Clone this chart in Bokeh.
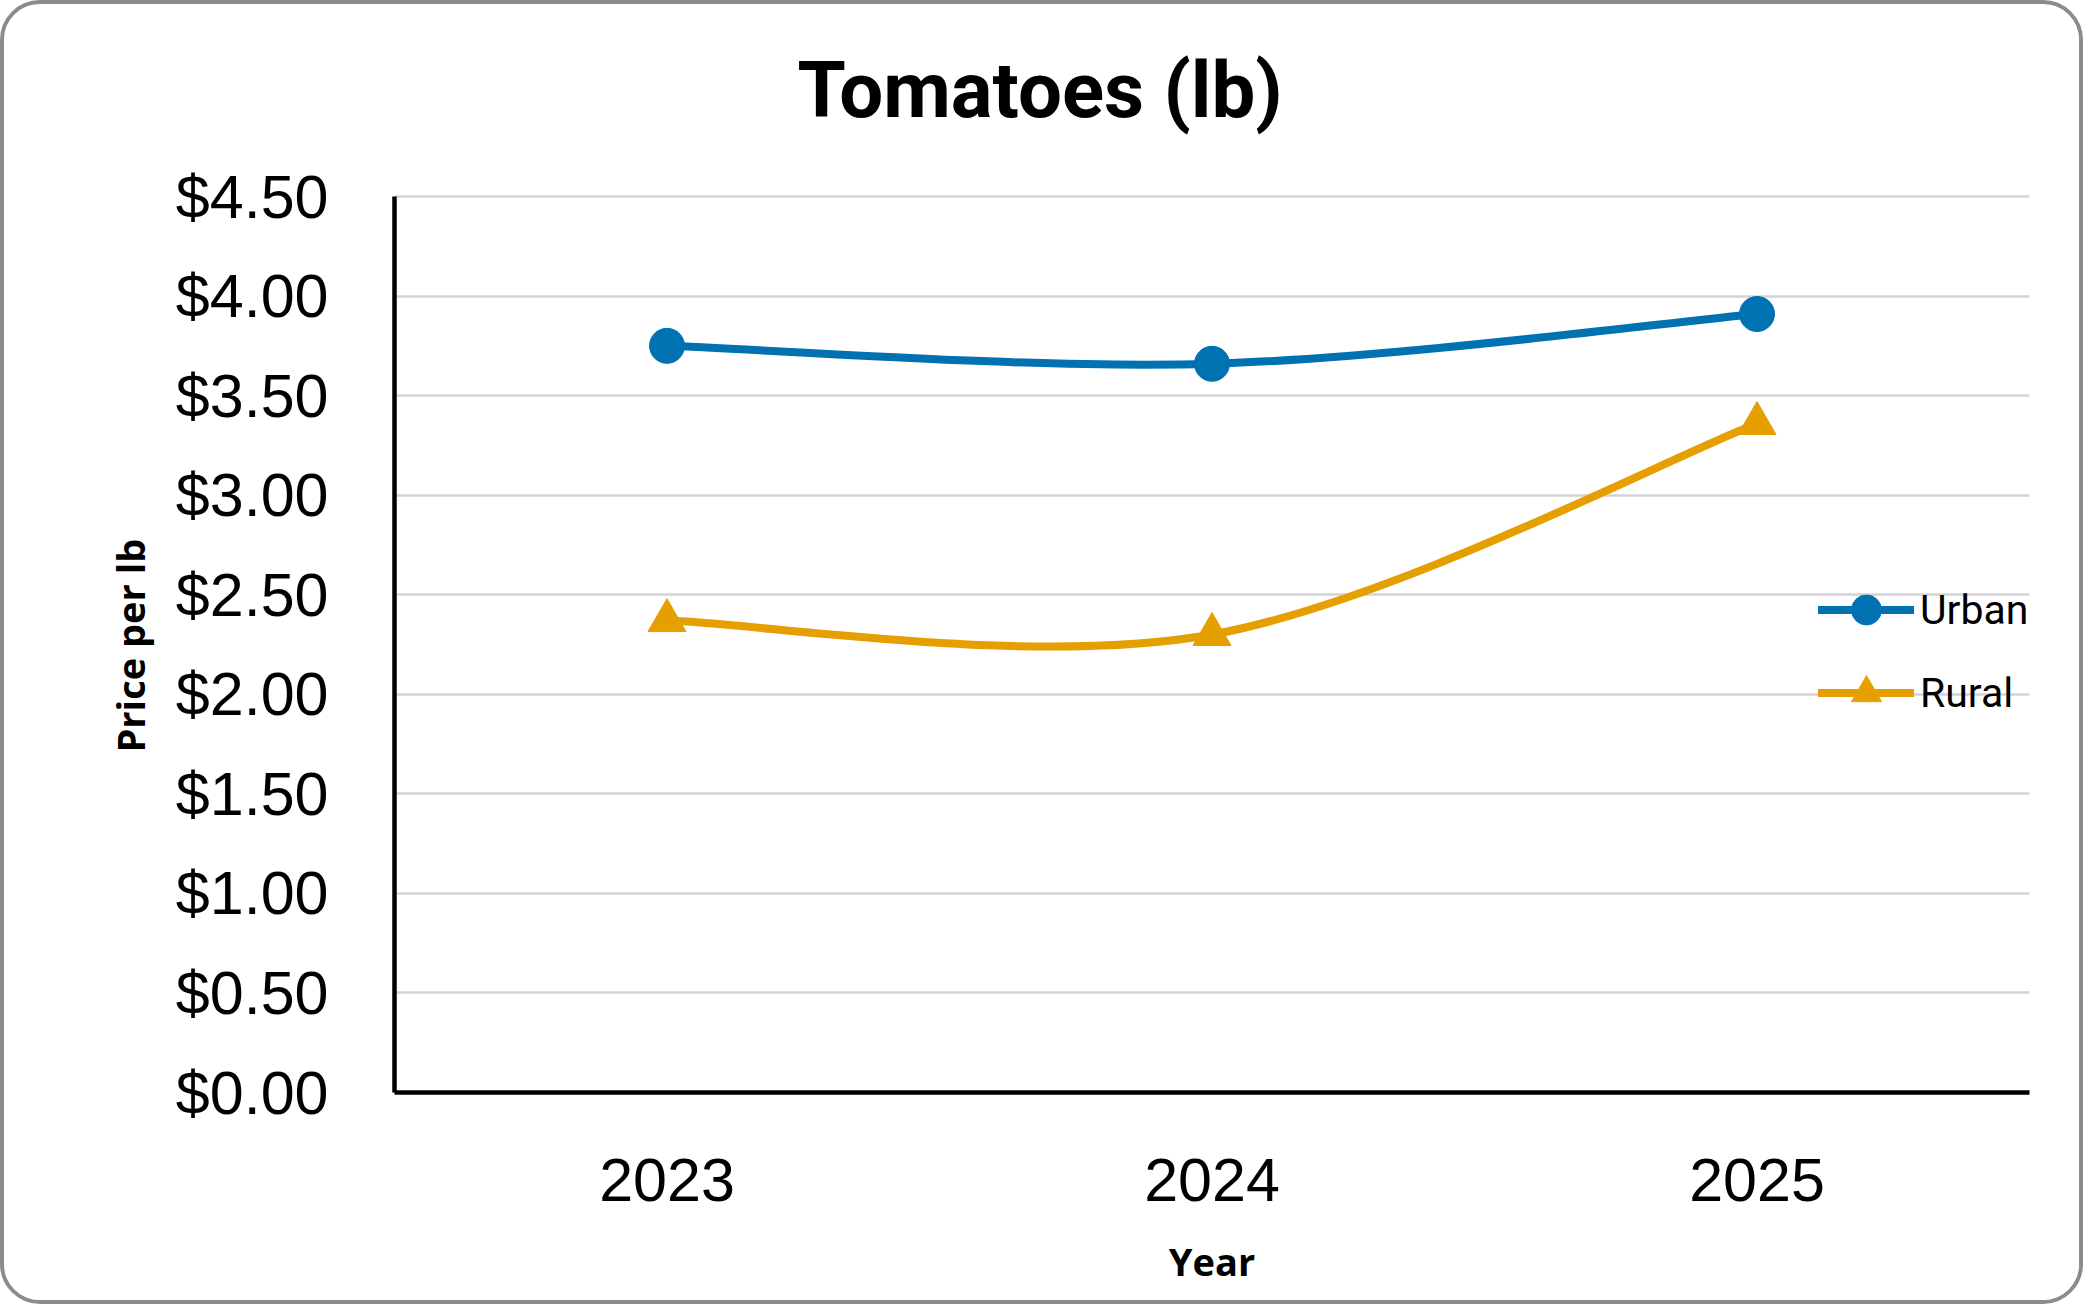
from bokeh.plotting import figure
from bokeh.models import Range1d, FixedTicker, NumeralTickFormatter, Legend, LegendItem, Title
from bokeh.embed import file_html
from bokeh.resources import INLINE

# ---- data ----
years = ["2023", "2024", "2025"]
urban = [3.75, 3.66, 3.91]
rural = [2.37, 2.30, 3.36]
y_ticks = [0.0, 0.5, 1.0, 1.5, 2.0, 2.5, 3.0, 3.5, 4.0, 4.5]
series_names = ["Urban", "Rural"]
title_text = "Tomatoes (lb)"
x_title = "Year"
y_title = "Price per lb"

BLUE = "#0072B2"
ORANGE = "#E69F00"

x_pos = [i + 0.5 for i in range(len(years))]

# layout (pixels inside the canvas)
FRAME_TOP = 142        # top of drawing frame (room for the title)
AXIS_TOP = 192         # where the highest tick (4.5) sits
FRAME_BOTTOM = 1088
y_end = y_ticks[-1] * (FRAME_BOTTOM - FRAME_TOP) / (FRAME_BOTTOM - AXIS_TOP)


def smooth_segments(xs, ys):
    """Bezier control points for a smoothed line through the data points."""
    n = len(xs)
    seg = dict(x0=[], y0=[], x1=[], y1=[], cx0=[], cy0=[], cx1=[], cy1=[])
    for i in range(n - 1):
        pm = max(i - 1, 0)
        pp = min(i + 2, n - 1)
        seg["x0"].append(xs[i]); seg["y0"].append(ys[i])
        seg["x1"].append(xs[i + 1]); seg["y1"].append(ys[i + 1])
        seg["cx0"].append(xs[i] + (xs[i + 1] - xs[pm]) / 6.0)
        seg["cy0"].append(ys[i] + (ys[i + 1] - ys[pm]) / 6.0)
        seg["cx1"].append(xs[i + 1] - (xs[pp] - xs[i]) / 6.0)
        seg["cy1"].append(ys[i + 1] - (ys[pp] - ys[i]) / 6.0)
    return seg


p = figure(
    width=2075, height=1296,
    x_range=Range1d(0, len(years)), y_range=Range1d(y_ticks[0], y_end),
    output_backend="svg", toolbar_location=None,
    min_border_left=390, min_border_right=58, min_border_top=FRAME_TOP, min_border_bottom=216,
    background_fill_color="white", border_fill_color="white",
    outline_line_color=None,
)
p.styles = {"border": "4px solid #8c8c8c", "border-radius": "40px",
            "box-sizing": "content-box", "overflow": "hidden"}

# title
p.title.text = title_text
p.title.align = "left"
p.title.offset = 403
p.title.standoff = 21
p.title.text_font = "Roboto"
p.title.text_font_style = "bold"
p.title.text_font_size = "78px"
p.title.text_color = "black"

# x axis
xa = p.xaxis[0]
xa.ticker = FixedTicker(ticks=x_pos)
xa.major_label_overrides = {x: y for x, y in zip(x_pos, years)}
xa.major_label_text_font = "Liberation Sans"
xa.major_label_text_font_size = "61px"
xa.major_label_text_color = "black"
xa.major_label_standoff = 66
xa.major_tick_out = 0
xa.major_tick_in = 0
xa.minor_tick_out = 0
xa.minor_tick_in = 0
xa.axis_line_color = "black"
xa.axis_line_width = 4.5
xa.axis_label = x_title
xa.axis_label_text_font = "Open Sans"
xa.axis_label_text_font_style = "bold"
xa.axis_label_text_font_size = "38px"
xa.axis_label_text_color = "black"
xa.axis_label_standoff = 31

# y axis
ya = p.yaxis[0]
ya.ticker = FixedTicker(ticks=y_ticks)
ya.bounds = (y_ticks[0], y_ticks[-1])
ya.formatter = NumeralTickFormatter(format="$0.00")
ya.major_label_text_font = "Liberation Sans"
ya.major_label_text_font_size = "61px"
ya.major_label_text_color = "black"
ya.major_label_standoff = 66
ya.major_tick_out = 0
ya.major_tick_in = 0
ya.minor_tick_out = 0
ya.minor_tick_in = 0
ya.axis_line_color = "black"
ya.axis_line_width = 4.5

# y-axis title, centred on the 0 .. 4.50 span
y_label = Title(text=y_title, align="left", offset=340, standoff=34, vertical_align="bottom",
                text_font="Open Sans", text_font_style="bold", text_font_size="38px",
                text_color="black")
p.add_layout(y_label, "left")

# grid
p.xgrid.visible = False
p.ygrid.ticker = FixedTicker(ticks=y_ticks)
p.ygrid.grid_line_color = "#d4d4d4"
p.ygrid.grid_line_width = 2.5

# series
su = smooth_segments(x_pos, urban)
sr = smooth_segments(x_pos, rural)

bu = p.bezier(line_color=BLUE, line_width=8, line_cap="round", **su)
mu = p.scatter(x_pos, urban, marker="circle", size=35, fill_color=BLUE, line_color=BLUE)
br = p.bezier(line_color=ORANGE, line_width=8, line_cap="round", **sr)
mr = p.scatter(x_pos, rural, marker="triangle", size=38, fill_color=ORANGE, line_color=ORANGE,
               line_join="round")

legend = Legend(
    items=[LegendItem(label=series_names[0], renderers=[bu, mu]),
           LegendItem(label=series_names[1], renderers=[br, mr])],
    location=(1424, 362),
    glyph_width=96, glyph_height=75, label_height=75,
    label_standoff=6, spacing=8, padding=0, margin=0,
    border_line_color=None, background_fill_alpha=0,
    label_text_font="Roboto", label_text_font_size="41px", label_text_color="black",
)
p.add_layout(legend)

open("out.html", "w").write(file_html(p, INLINE))
